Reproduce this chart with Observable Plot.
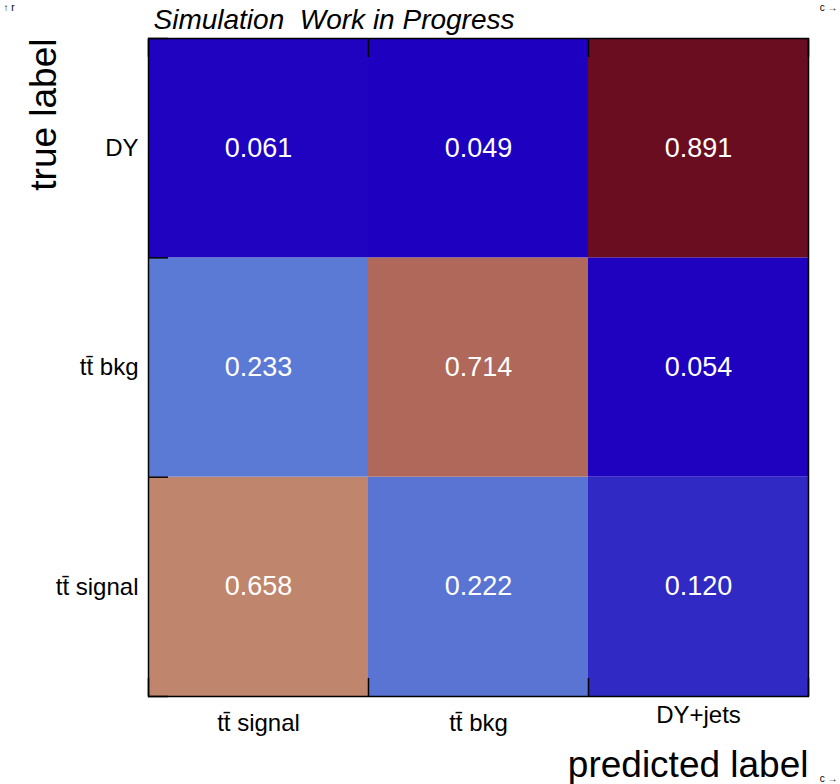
<!DOCTYPE html>
<html>
<head>
<meta charset="utf-8">
<script src="https://cdn.jsdelivr.net/npm/d3@7"></script>
<script src="https://cdn.jsdelivr.net/npm/@observablehq/plot@0.6"></script>
<style>
  html, body { margin: 0; padding: 0; background: white; }
</style>
</head>
<body>
<div id="chart"></div>
<script>
// Column categories (predicted), row categories (true, bottom to top)
const predicted = ["tt\u0304 signal", "tt\u0304 bkg", "DY+jets"];
const trueLabels = ["tt\u0304 signal", "tt\u0304 bkg", "DY"];
// values[row][col], row 0 = bottom row (tt̄ signal)
const rowSignal = [0.658, 0.222, 0.120];
const rowBkg    = [0.233, 0.714, 0.054];
const rowDY     = [0.061, 0.049, 0.891];
const values = [rowSignal, rowBkg, rowDY];
const title = "Simulation\u00a0 Work in Progress";
const xTitle = "predicted label";
const yTitle = "true label";

const cells = values.flatMap((row, r) => row.map((v, c) => ({r, c, v})));
const font = "'Liberation Sans', Arial, Helvetica, sans-serif";

const chart = Plot.plot({
  width: 840,
  height: 784,
  marginLeft: 148,
  marginRight: 32,
  marginTop: 38,
  marginBottom: 88,
  x: {domain: [0, predicted.length], axis: null},
  y: {domain: [0, trueLabels.length], axis: null},
  color: {
    type: "linear",
    domain: [0.049, 0.061, 0.12, 0.222, 0.233, 0.658, 0.714, 0.891],
    range: ["#1e00c0", "#2002c1", "#3129c4", "#5a74d3", "#5b7ad5", "#c0856d", "#b0685a", "#6a0d20"],
    interpolate: "rgb"
  },
  style: {fontFamily: font, background: "white", color: "black"},
  marks: [
    Plot.rect(cells, {x1: "c", x2: d => d.c + 1, y1: "r", y2: d => d.r + 1, fill: "v"}),
    Plot.text(cells, {x: d => d.c + 0.5, y: d => d.r + 0.5, text: d => d.v.toFixed(3),
      fill: "white", fontSize: 27}),
    Plot.axisX({anchor: "bottom", ticks: d3.range(predicted.length + 1), tickSize: -18,
      tickFormat: () => "", stroke: "black", strokeWidth: 1.5}),
    Plot.axisX({anchor: "top", ticks: d3.range(predicted.length + 1), tickSize: -18,
      tickFormat: () => "", stroke: "black", strokeWidth: 1.5}),
    Plot.axisY({anchor: "left", ticks: d3.range(trueLabels.length + 1), tickSize: -20,
      tickFormat: () => "", stroke: "black", strokeWidth: 1.5}),
    Plot.frame({stroke: "black", strokeWidth: 1.5}),
    // y tick labels
    Plot.text(trueLabels, {y: (d, i) => i + 0.5, frameAnchor: "left", textAnchor: "end",
      dx: -10, fontSize: 24, fill: "black"}),
    // x tick labels
    Plot.text(predicted, {filter: d => d.startsWith("t"), x: (d, i) => i + 0.5,
      frameAnchor: "bottom", lineAnchor: "middle", dy: 27, fontSize: 24, fill: "black"}),
    Plot.text(predicted, {filter: d => !d.startsWith("t"), x: (d, i) => i + 0.5,
      frameAnchor: "bottom", lineAnchor: "middle", dy: 19, fontSize: 24, fill: "black"}),
    // title
    Plot.text([title], {frameAnchor: "top-left", textAnchor: "start", lineAnchor: "bottom",
      dx: 5, dy: -10, fontSize: 28, fontStyle: "italic", fill: "black"}),
    // axis titles
    Plot.text([xTitle], {frameAnchor: "bottom-right", textAnchor: "end", lineAnchor: "bottom",
      dy: 80, fontSize: 37, fill: "black"}),
    Plot.text([yTitle], {frameAnchor: "top-left", textAnchor: "end", lineAnchor: "bottom",
      rotate: -90, dx: -93, fontSize: 37, fill: "black"})
  ]
});
document.getElementById("chart").appendChild(chart);
</script>
</body>
</html>
